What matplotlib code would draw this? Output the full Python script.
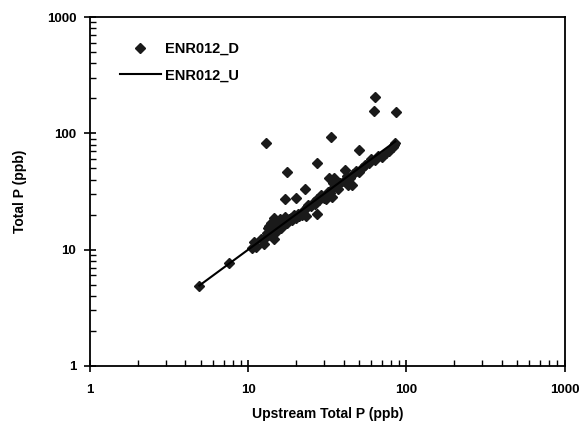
import matplotlib
matplotlib.use("Agg")
import matplotlib.pyplot as plt
from matplotlib.ticker import LogLocator, NullFormatter, FixedLocator, FixedFormatter

plt.rcParams['font.family'] = ['Liberation Sans', 'DejaVu Sans']

# upstream total P (ppb) and downstream total P (ppb)
upstream = [4.9, 7.5, 10.5, 10.8, 11.2, 12.0, 12.5, 13.0, 13.2, 13.4, 13.6, 13.8,
            14.0, 14.2, 14.5, 14.6, 14.8, 15.0, 15.2, 15.5, 15.8, 16.0, 16.2, 16.5,
            17.0, 17.2, 17.5, 18.0, 18.5, 19.0, 19.5, 20.0, 20.5, 21.0, 22.0, 22.5,
            23.0, 23.5, 24.0, 25.0, 26.0, 26.5, 27.0, 28.0, 29.0, 30.0, 31.0, 32.0,
            33.0, 34.0, 34.5, 36.0, 37.0, 38.0, 40.0, 42.0, 44.0, 45.0, 46.0, 48.0,
            50.0, 52.0, 55.0, 58.0, 60.0, 63.0, 66.0, 70.0, 74.0, 78.0, 82.0, 84.0,
            85.0,
            63.4, 62.2, 85.4, 13.0, 33.2, 50.0, 27.0, 17.5, 22.8, 17.1, 19.9, 27.2,
            32.5, 35.0, 40.7, 43.0, 33.7]
downstream = [4.9, 7.6, 10.4, 11.5, 10.6, 12.2, 11.2, 12.8, 14.0, 15.2, 15.8, 13.4,
              16.8, 14.6, 18.8, 12.4, 15.6, 17.4, 14.4, 16.4, 18.4, 15.2, 17.6, 16.2,
              19.0, 17.4, 16.8, 18.4, 18.8, 17.8, 19.8, 18.8, 20.2, 19.6, 19.8, 22.0,
              19.6, 23.0, 24.0, 23.5, 25.5, 24.5, 27.0, 26.5, 29.5, 28.0, 27.0, 31.5,
              30.5, 33.0, 37.0, 37.0, 33.0, 37.0, 39.0, 43.0, 41.0, 36.0, 45.0, 47.0,
              46.0, 50.0, 53.0, 55.0, 60.0, 59.0, 64.0, 63.0, 68.0, 70.0, 76.0, 79.0,
              82.0,
              205.0, 155.0, 153.0, 83.0, 92.0, 72.0, 56.0, 46.0, 33.0, 27.0, 27.6, 20.3,
              41.0, 41.0, 48.4, 35.9, 28.3]

line_x = sorted(upstream[:73])

fig = plt.figure(figsize=(5.82, 4.36), dpi=100)
ax = fig.add_axes([0.155, 0.161, 0.815, 0.8])

ax.plot(upstream, downstream, 'D', color='#1a1a1a', markersize=4.6,
        linestyle='none', label='ENR012_D')
ax.plot(line_x, line_x, '-', color='black', linewidth=1.5, label='ENR012_U')

ax.set_xscale('log')
ax.set_yscale('log')
ax.set_xlim(1, 1000)
ax.set_ylim(1, 1000)

ticks = [1, 10, 100, 1000]
for axis in (ax.xaxis, ax.yaxis):
    axis.set_major_locator(FixedLocator(ticks))
    axis.set_major_formatter(FixedFormatter([str(t) for t in ticks]))
    axis.set_minor_locator(LogLocator(base=10, subs=range(2, 10)))
    axis.set_minor_formatter(NullFormatter())

ax.tick_params(which='major', direction='inout', length=8, width=1.2,
               labelsize=9.5, pad=6)
ax.tick_params(axis='x', which='major', pad=9)
ax.tick_params(which='minor', direction='in', length=4, width=1)
for lab in ax.get_xticklabels() + ax.get_yticklabels():
    lab.set_fontweight('bold')

for s in ax.spines.values():
    s.set_linewidth(1.3)

ax.set_xlabel('Upstream Total P (ppb)', fontsize=10, fontweight='bold', labelpad=8)
ax.set_ylabel('Total P (ppb)', fontsize=10, fontweight='bold', labelpad=14)

leg = ax.legend(loc='upper left', bbox_to_anchor=(0.05, 0.945), frameon=False,
                fontsize=10.5, handlelength=2.8, borderaxespad=0.0,
                labelspacing=0.85, handletextpad=0.3)
for t in leg.get_texts():
    t.set_fontweight('bold')

fig.savefig('out.png', dpi=100)
